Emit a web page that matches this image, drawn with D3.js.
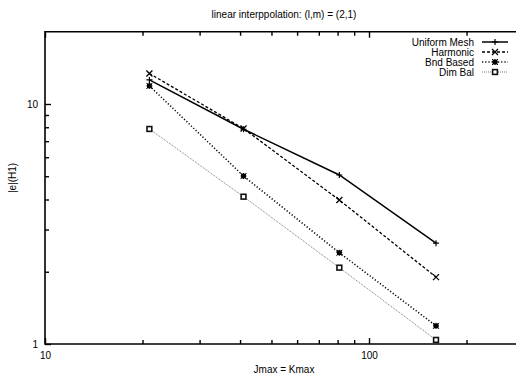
<!DOCTYPE html>
<html>
<head>
<meta charset="utf-8">
<script src="https://cdn.jsdelivr.net/npm/d3@7"></script>
<style>
  body { margin: 0; background: #fff; }
  svg { display: block; font-family: "Liberation Sans", Arial, sans-serif; }
</style>
</head>
<body>
<div id="chart"></div>
<script>
// data
const jmax = [21, 41, 81, 161];
const uniformMesh = [12.6, 7.85, 5.06, 2.63];
const harmonic = [13.4, 7.9, 3.98, 1.90];
const bndBased = [11.9, 5.01, 2.40, 1.19];
const dimBal = [7.87, 4.11, 2.08, 1.04];

const seriesNames = ["Uniform Mesh", "Harmonic", "Bnd Based", "Dim Bal"];
const xMajor = [10, 100];
const xMinor = [20, 30, 40, 50, 60, 70, 80, 90, 200];
const yMajor = [1, 10];
const yMinor = [2, 3, 4, 5, 6, 7, 8, 9];

const W = 516, H = 379;
const plotLeft = 45, plotTop = 31.75, plotBottom = 344;

const x = d3.scaleLog().domain([10, 300]).range([plotLeft, plotLeft + 324 * Math.log10(30)]);
const y = d3.scaleLog().domain([1, 20]).range([plotBottom, plotTop]);

const svg = d3.select("#chart").append("svg")
    .attr("width", W).attr("height", H);

const styles = [
    { dash: null, width: 1.5, color: "#000", mark: "plus" },
    { dash: "3,2", width: 1.3, color: "#000", mark: "cross" },
    { dash: "1.2,2", width: 1.5, color: "#000", mark: "star" },
    { dash: "1,1", width: 0.8, color: "#555", mark: "box" }
];
const values = [uniformMesh, harmonic, bndBased, dimBal];

// axes (gnuplot style, ticks pointing inward)
function axis(gen, pos, vals, size, labels) {
    const g = svg.append("g").attr("transform", pos)
        .call(gen.tickValues(vals).tickSize(size).tickSizeOuter(0)
            .tickFormat(labels ? d3.format("d") : () => ""));
    g.select(".domain").remove();
    g.selectAll(".tick line").attr("stroke", "#000").attr("stroke-width", 1.4);
    g.selectAll("text").attr("font-size", 10).attr("fill", "#000")
        .attr("font-family", "Liberation Sans, Arial, sans-serif");
    return g;
}

// border
svg.append("path")
    .attr("d", `M${x(300)},${plotTop}H${plotLeft}V${plotBottom}H${x(300)}`)
    .attr("fill", "none").attr("stroke", "#000").attr("stroke-width", 1.6);

const xb = axis(d3.axisBottom(x), `translate(0,${plotBottom})`, xMajor, -6, true);
xb.selectAll("text").attr("y", 8).attr("dy", "0.71em");
axis(d3.axisBottom(x), `translate(0,${plotBottom})`, xMinor, -4, false);
axis(d3.axisTop(x), `translate(0,${plotTop})`, xMajor, -6, false);
axis(d3.axisTop(x), `translate(0,${plotTop})`, xMinor, -4, false);
const yl = axis(d3.axisLeft(y), `translate(${plotLeft},0)`, yMajor, -6, true);
yl.selectAll("text").attr("x", -7);
axis(d3.axisLeft(y), `translate(${plotLeft},0)`, yMinor, -4, false);

// labels
svg.append("text").attr("x", 284).attr("y", 18).attr("text-anchor", "middle")
    .attr("font-size", 10).text("linear interppolation: (l,m) = (2,1)");
svg.append("text").attr("x", 284).attr("y", 373).attr("text-anchor", "middle")
    .attr("font-size", 10).text("Jmax = Kmax");
svg.append("text").attr("transform", "translate(16,178) rotate(-90)")
    .attr("text-anchor", "middle").attr("font-size", 10).text("|e|(H1)");

function drawMark(g, kind, cx, cy) {
    const s = 3;
    if (kind === "plus") {
        g.append("path").attr("d", `M${cx - s},${cy}H${cx + s}M${cx},${cy - s}V${cy + s}`)
            .attr("stroke", "#000").attr("stroke-width", 1.2);
    } else if (kind === "cross") {
        g.append("path").attr("d", `M${cx - s},${cy - s}L${cx + s},${cy + s}M${cx - s},${cy + s}L${cx + s},${cy - s}`)
            .attr("stroke", "#000").attr("stroke-width", 1.3);
    } else if (kind === "star") {
        g.append("rect").attr("x", cx - 2.4).attr("y", cy - 2.4).attr("width", 4.8).attr("height", 4.8)
            .attr("fill", "#000");
        g.append("path").attr("d", `M${cx - s},${cy - s}L${cx + s},${cy + s}M${cx - s},${cy + s}L${cx + s},${cy - s}M${cx - s},${cy}H${cx + s}M${cx},${cy - s}V${cy + s}`)
            .attr("stroke", "#000").attr("stroke-width", 1);
    } else {
        g.append("rect").attr("x", cx - 2.4).attr("y", cy - 2.4).attr("width", 4.8).attr("height", 4.8)
            .attr("fill", "#fff").attr("stroke", "#111").attr("stroke-width", 1.6);
    }
}

const line = d3.line().x(d => x(d[0])).y(d => y(d[1]));

values.forEach((vals, i) => {
    const st = styles[i];
    const pts = jmax.map((j, k) => [j, vals[k]]);
    const g = svg.append("g");
    g.append("path").datum(pts).attr("d", line)
        .attr("fill", "none").attr("stroke", st.color).attr("stroke-width", st.width)
        .attr("stroke-dasharray", st.dash);
    pts.forEach(p => drawMark(g, st.mark, x(p[0]), y(p[1])));

    // legend row
    const ly = 42 + i * 10;
    svg.append("text").attr("x", 474).attr("y", ly).attr("dy", "0.35em")
        .attr("text-anchor", "end").attr("font-size", 10).text(seriesNames[i]);
    svg.append("line").attr("x1", 482).attr("x2", 508).attr("y1", ly).attr("y2", ly)
        .attr("stroke", st.color).attr("stroke-width", st.width).attr("stroke-dasharray", st.dash);
    drawMark(svg.append("g"), st.mark, 495, ly);
});
</script>
</body>
</html>
